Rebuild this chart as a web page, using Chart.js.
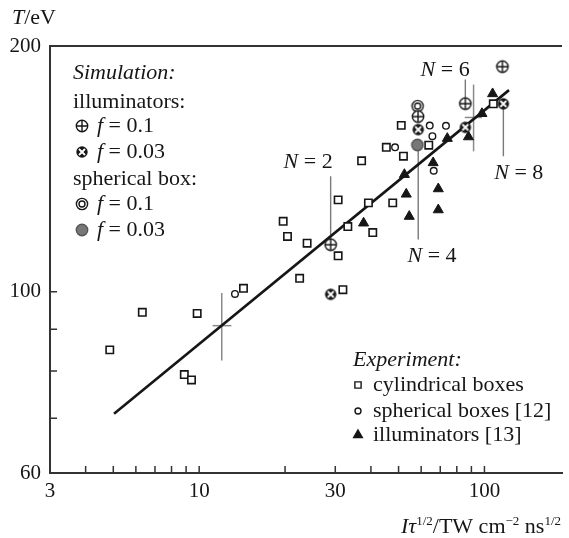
<!DOCTYPE html>
<html>
<head>
<meta charset="utf-8">
<script src="https://cdn.jsdelivr.net/npm/chart.js@4"></script>
<style>
  html, body { margin: 0; padding: 0; background: #fff; }
</style>
</head>
<body>
<canvas id="myChart" width="569" height="538"></canvas>
<script>
// experiment: [I tau^1/2, T]
const cylindricalBoxes = [
  [4.86, 84.9], [6.32, 94.4], [9.84, 94.1], [8.87, 79.2], [9.40, 78.0],
  [14.3, 101.0], [22.5, 103.9], [31.9, 100.6], [30.7, 110.7], [23.9, 114.7],
  [20.4, 116.9], [19.7, 122.0], [33.2, 120.2], [40.6, 118.2], [30.7, 129.6],
  [39.2, 128.5], [47.7, 128.5], [37.1, 144.7], [45.3, 150.3], [52.0, 146.6],
  [51.1, 159.9], [63.8, 151.2], [107.4, 169.9]
];
const sphericalBoxes = [[13.35, 99.4], [48.6, 150.3], [64.3, 159.8], [73.3, 159.7], [65.7, 155.1], [66.4, 140.7]];
const illuminatorsExp = [
  [37.7, 121.4], [52.4, 139.2], [53.2, 131.7], [54.5, 123.7], [68.9, 133.7], [68.9, 126.0],
  [66.1, 143.9], [74.1, 154.1], [87.9, 154.8], [98.0, 165.3], [106.8, 174.8]
];

// simulation
const simIllum01 = [[28.9, 114.2], [58.5, 163.9], [85.7, 170.0], [115.6, 188.7]];
const simIllum003 = [[28.9, 99.3], [58.6, 158.0], [85.7, 159.0], [116.5, 169.9]];
const simSphere01 = [[58.3, 168.8]];
const simSphere003 = [[58.2, 151.3]];

// fit line and error crosses [x, y, xLo, xHi, yLo, yHi]
const fitLine = [[5.03, 70.9], [121.9, 176.6]];
const errorBars = [[12.0, 90.9, 11.15, 12.97, 82.4, 99.7], [91.6, 163.5, 85.3, 98.0, 148.6, 179.4]];

// N = ... leader lines [x, yTop, yBottom] and label positions
const leaders = [[28.9, 138.5, 114.2], [58.6, 151.3, 115.9], [85.7, 182.0, 170.0], [116.5, 169.9, 146.6]];
const nLabels = ['2', '4', '6', '8'];
const nLabelPos = [[24.1, 144.2], [65.5, 110.5], [72.8, 186.8], [131.9, 139.9]];

// axes
const xLabelTicks = [3, 10, 30, 100];
const yLabelTicks = [60, 100, 200];
const xMinorTicks = [4, 5, 6, 7, 8, 9, 10, 20, 30, 40, 50, 60, 70, 80, 90, 100];
const yMinorTicks = [70, 80, 90, 100];

const FONT = '"Liberation Serif", "DejaVu Serif", serif';
const INK = '#161616';

function makeSymbol(kind) {
  const c = document.createElement('canvas');
  c.width = 16; c.height = 16;
  const g = c.getContext('2d');
  const m = 8;
  g.lineWidth = 1.4;
  g.strokeStyle = INK;
  g.beginPath();
  g.arc(m, m, kind === 'double' ? 5.6 : 5.7, 0, Math.PI * 2);
  if (kind === 'otimes') { g.fillStyle = INK; g.fill(); }
  else if (kind === 'gray') { g.fillStyle = '#777'; g.fill(); g.strokeStyle = '#555'; g.stroke(); }
  else { g.fillStyle = '#fff'; g.fill(); g.stroke(); }
  if (kind === 'oplus') {
    g.beginPath();
    g.moveTo(m - 5.7, m); g.lineTo(m + 5.7, m);
    g.moveTo(m, m - 5.7); g.lineTo(m, m + 5.7);
    g.stroke();
  }
  if (kind === 'otimes') {
    g.strokeStyle = '#fff'; g.lineWidth = 1.8;
    g.beginPath();
    g.moveTo(m - 3, m - 3); g.lineTo(m + 3, m + 3);
    g.moveTo(m + 3, m - 3); g.lineTo(m - 3, m + 3);
    g.stroke();
  }
  if (kind === 'double') {
    g.beginPath(); g.arc(m, m, 3, 0, Math.PI * 2); g.stroke();
  }
  return c;
}
const symOplus = makeSymbol('oplus');
const symOtimes = makeSymbol('otimes');
const symDouble = makeSymbol('double');
const symGray = makeSymbol('gray');

const pts = arr => arr.map(p => ({ x: p[0], y: p[1] }));

function segment(data, color, width) {
  return { type: 'scatter', data: data, showLine: true, pointRadius: 0, borderColor: color, borderWidth: width, order: 2 };
}

const datasets = [
  { label: 'sim illum 0.03', data: pts(simIllum003), pointStyle: symOtimes, pointRadius: 6, order: 0 },
  { label: 'sim illum 0.1', data: pts(simIllum01), pointStyle: symOplus, pointRadius: 6, order: 0 },
  { label: 'sim sphere 0.1', data: pts(simSphere01), pointStyle: symDouble, pointRadius: 6, order: 0 },
  { label: 'sim sphere 0.03', data: pts(simSphere003), pointStyle: symGray, pointRadius: 6, order: 0 },
  { label: 'cylindrical boxes', data: pts(cylindricalBoxes), pointStyle: 'rect', pointRadius: 5.2,
    borderColor: INK, backgroundColor: '#fff', pointBorderWidth: 1.6, order: 1 },
  { label: 'spherical boxes [12]', data: pts(sphericalBoxes), pointStyle: 'circle', pointRadius: 3.3,
    borderColor: INK, backgroundColor: '#fff', pointBorderWidth: 1.4, order: 1 },
  { label: 'illuminators [13]', data: pts(illuminatorsExp), pointStyle: 'triangle', pointRadius: 5.8,
    borderColor: INK, backgroundColor: INK, pointBorderWidth: 1, order: 1 },
  segment(pts(fitLine), INK, 2.6)
];
errorBars.forEach(e => {
  datasets.push(segment([{ x: e[0], y: e[4] }, { x: e[0], y: e[5] }], '#8a8a8a', 1.5));
  datasets.push(segment([{ x: e[2], y: e[1] }, { x: e[3], y: e[1] }], '#8a8a8a', 1.5));
});
leaders.forEach(l => {
  datasets.push(segment([{ x: l[0], y: l[1] }, { x: l[0], y: l[2] }], '#7a7a7a', 1.4));
});

function fontFor(st) {
  if (st === 'i') return 'italic 22px ' + FONT;
  if (st === 's') return '13px ' + FONT;
  return '22px ' + FONT;
}
function drawRich(ctx, parts, x, y, align) {
  let w = 0;
  parts.forEach(p => { ctx.font = fontFor(p[1]); w += ctx.measureText(p[0]).width; });
  let cx = align === 'center' ? x - w / 2 : align === 'right' ? x - w : x;
  ctx.textAlign = 'left';
  parts.forEach(p => {
    ctx.font = fontFor(p[1]);
    ctx.fillText(p[0], cx, y + (p[1] === 's' ? -8 : 0));
    cx += ctx.measureText(p[0]).width;
  });
}

const decorations = {
  id: 'decorations',
  afterDraw(chart) {
    const ctx = chart.ctx, xs = chart.scales.x, ys = chart.scales.y, a = chart.chartArea;
    ctx.save();
    // frame top + inward ticks
    ctx.strokeStyle = '#333';
    ctx.lineWidth = 2;
    ctx.beginPath();
    ctx.moveTo(a.left - 1, a.top); ctx.lineTo(a.right, a.top);
    ctx.stroke();
    ctx.lineWidth = 1.5;
    ctx.beginPath();
    xMinorTicks.forEach(v => { const px = xs.getPixelForValue(v); ctx.moveTo(px, a.bottom); ctx.lineTo(px, a.bottom - 7); });
    yMinorTicks.forEach(v => { const py = ys.getPixelForValue(v); ctx.moveTo(a.left, py); ctx.lineTo(a.left + 7, py); });
    ctx.stroke();

    ctx.fillStyle = INK;
    // axis titles
    ctx.textBaseline = 'alphabetic';
    drawRich(ctx, [['T', 'i'], ['/eV', 'n']], 12, 24, 'left');
    drawRich(ctx, [['I', 'i'], ['τ', 'i'], ['1/2', 's'], ['/TW cm', 'n'], ['−2', 's'], [' ns', 'n'], ['1/2', 's']], 561, 533, 'right');

    // N labels
    ctx.textBaseline = 'middle';
    nLabels.forEach((t, i) => {
      drawRich(ctx, [['N', 'i'], [' = ' + t, 'n']], xs.getPixelForValue(nLabelPos[i][0]), ys.getPixelForValue(nLabelPos[i][1]), 'center');
    });

    // simulation legend
    drawRich(ctx, [['Simulation:', 'i']], 73, 73, 'left');
    drawRich(ctx, [['illuminators:', 'n']], 73, 102, 'left');
    drawRich(ctx, [['spherical box:', 'n']], 73, 179, 'left');
    const simRows = [[symOplus, '0.1', 126], [symOtimes, '0.03', 152], [symDouble, '0.1', 204], [symGray, '0.03', 230]];
    simRows.forEach(r => {
      ctx.drawImage(r[0], 82 - r[0].width / 2, r[2] - r[0].height / 2);
      drawRich(ctx, [['f', 'i'], [' = ' + r[1], 'n']], 97, r[2], 'left');
    });

    // experiment legend
    drawRich(ctx, [['Experiment:', 'i']], 353, 360, 'left');
    const expRows = [['rect', 4.4, '#fff', 'cylindrical boxes', 385], ['circle', 3, '#fff', 'spherical boxes [12]', 411], ['triangle', 5, INK, 'illuminators [13]', 435]];
    expRows.forEach(r => {
      ctx.fillStyle = r[2];
      ctx.strokeStyle = INK;
      ctx.lineWidth = 1.4;
      Chart.helpers.drawPoint(ctx, { pointStyle: r[0], radius: r[1], borderWidth: 1.4, rotation: 0 }, 358, r[4]);
      ctx.fillStyle = INK;
      drawRich(ctx, [[r[3], 'n']], 373, r[4], 'left');
    });
    ctx.restore();
  }
};

const tickFont = { family: FONT, size: 21 };

new Chart(document.getElementById('myChart'), {
  type: 'scatter',
  data: { datasets: datasets },
  options: {
    responsive: false,
    animation: false,
    devicePixelRatio: 1,
    layout: { padding: { top: 46, left: 0, right: 0, bottom: 0 } },
    plugins: { legend: { display: false }, tooltip: { enabled: false } },
    scales: {
      x: {
        type: 'logarithmic', min: 3, max: 187,
        grid: { display: false, drawTicks: false },
        border: { display: true, color: '#333', width: 2 },
        ticks: { font: tickFont, color: INK, padding: 6, autoSkip: false, maxRotation: 0, callback: v => String(v) },
        afterBuildTicks: s => { s.ticks = xLabelTicks.map(v => ({ value: v })); },
        afterFit: s => { s.height = 65; }
      },
      y: {
        type: 'logarithmic', min: 60, max: 200,
        grid: { display: false, drawTicks: false },
        border: { display: true, color: '#333', width: 2 },
        ticks: { font: tickFont, color: INK, padding: 9, autoSkip: false, callback: v => String(v) },
        afterBuildTicks: s => { s.ticks = yLabelTicks.map(v => ({ value: v })); },
        afterFit: s => { s.width = 50; }
      }
    }
  },
  plugins: [decorations]
});
</script>
</body>
</html>
